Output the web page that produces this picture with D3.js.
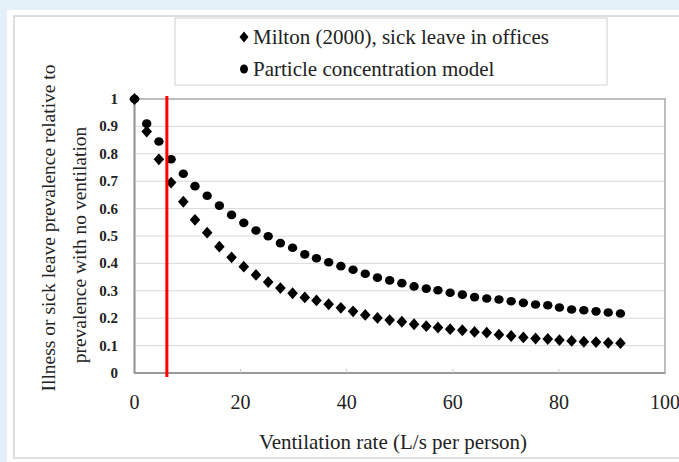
<!DOCTYPE html>
<html>
<head>
<meta charset="utf-8">
<script src="https://cdn.jsdelivr.net/npm/d3@7"></script>
<style>
    body { margin: 0; background: #e4f0f8; }
    svg { display: block; }
</style>
</head>
<body>
<div id="chart"></div>
<script>
// Ventilation rate (L/s per person), shared by both series
const ventilationRate = [
    0, 2.3, 4.6, 6.9, 9.2, 11.4, 13.7, 16.0, 18.3, 20.6,
    22.9, 25.2, 27.5, 29.8, 32.1, 34.3, 36.6, 38.9, 41.2, 43.5,
    45.8, 48.1, 50.4, 52.7, 55.0, 57.2, 59.5, 61.8, 64.1, 66.4,
    68.7, 71.0, 73.3, 75.6, 77.9, 80.1, 82.4, 84.7, 87.0, 89.3, 91.6
];

// Milton (2000), sick leave in offices
const miltonSickLeave = [
    1.0, 0.881, 0.78, 0.695, 0.625, 0.559, 0.512, 0.461, 0.422, 0.388,
    0.358, 0.332, 0.31, 0.291, 0.276, 0.265, 0.251, 0.238, 0.225, 0.212,
    0.201, 0.193, 0.187, 0.178, 0.171, 0.166, 0.16, 0.156, 0.15, 0.147,
    0.14, 0.135, 0.13, 0.126, 0.124, 0.12, 0.117, 0.114, 0.113, 0.11, 0.109
];

// Particle concentration model
const particleModel = [
    1.0, 0.91, 0.845, 0.78, 0.727, 0.682, 0.647, 0.611, 0.577, 0.548,
    0.52, 0.499, 0.474, 0.457, 0.433, 0.419, 0.404, 0.39, 0.377, 0.362,
    0.348, 0.338, 0.328, 0.316, 0.308, 0.302, 0.293, 0.286, 0.277, 0.272,
    0.268, 0.262, 0.256, 0.25, 0.247, 0.239, 0.232, 0.229, 0.225, 0.221, 0.217
];

const xTicks = [0, 20, 40, 60, 80, 100];
const yTicks = [0, 0.1, 0.2, 0.3, 0.4, 0.5, 0.6, 0.7, 0.8, 0.9, 1];
const referenceRate = 6.1;

const legendLabels = [
    "Milton (2000), sick leave in offices",
    "Particle concentration model"
];

const serif = "'Liberation Serif', 'Times New Roman', serif";

function diamond(cx, cy, w, h) {
    return `M${cx},${cy - h}L${cx + w},${cy}L${cx},${cy + h}L${cx - w},${cy}Z`;
}

function drawChart() {
    const width = 679, height = 462;

    const svg = d3
        .select("#chart")
        .append("svg")
        .attr("width", width)
        .attr("height", height)
        .attr("viewBox", [0, 0, width, height])
        .attr("font-family", serif);

    // White panel with its thin frame
    svg.append("rect")
        .attr("x", 7).attr("y", 10)
        .attr("width", width).attr("height", height)
        .attr("fill", "#fff");
    svg.append("rect")
        .attr("x", 14).attr("y", 16)
        .attr("width", width).attr("height", 442)
        .attr("fill", "#fff")
        .attr("stroke", "#d4d4d4")
        .attr("stroke-width", 1.5);

    const x = d3.scaleLinear().domain([0, 100]).range([134.5, 665]);
    const y = d3.scaleLinear().domain([0, 1]).range([373, 99]);

    // Gridlines
    svg.append("g")
        .selectAll("line")
        .data(yTicks.slice(1, -1))
        .join("line")
        .attr("x1", x(0)).attr("x2", x(100))
        .attr("y1", (d) => y(d)).attr("y2", (d) => y(d))
        .attr("stroke", "#d9d9d9")
        .attr("stroke-width", 1);

    // Plot border
    svg.append("rect")
        .attr("x", x(0)).attr("y", y(1))
        .attr("width", x(100) - x(0))
        .attr("height", y(0) - y(1))
        .attr("fill", "none")
        .attr("stroke", "#a8a8a8")
        .attr("stroke-width", 1.5);

    // Axis lines
    svg.append("line")
        .attr("x1", x(0)).attr("x2", x(0))
        .attr("y1", y(1)).attr("y2", y(0))
        .attr("stroke", "#999").attr("stroke-width", 2);
    svg.append("line")
        .attr("x1", x(0)).attr("x2", x(100))
        .attr("y1", y(0)).attr("y2", y(0))
        .attr("stroke", "#999").attr("stroke-width", 2);

    // Small inner ticks on x axis
    svg.append("g")
        .selectAll("line")
        .data(xTicks.slice(1, -1))
        .join("line")
        .attr("x1", (d) => x(d)).attr("x2", (d) => x(d))
        .attr("y1", y(0) - 4).attr("y2", y(0))
        .attr("stroke", "#c8c8c8");

    // Tick labels
    svg.append("g")
        .selectAll("text")
        .data(yTicks)
        .join("text")
        .attr("x", 118)
        .attr("y", (d) => y(d) + 5)
        .attr("text-anchor", "end")
        .attr("font-size", 15)
        .attr("font-weight", "bold")
        .attr("fill", "#222")
        .text((d) => d3.format("~g")(d));

    svg.append("g")
        .selectAll("text")
        .data(xTicks)
        .join("text")
        .attr("x", (d) => x(d))
        .attr("y", 409)
        .attr("text-anchor", "middle")
        .attr("font-size", 20)
        .attr("fill", "#222")
        .text((d) => d);

    // Axis titles
    svg.append("text")
        .attr("x", 393).attr("y", 449)
        .attr("text-anchor", "middle")
        .attr("font-size", 21)
        .attr("fill", "#222")
        .text("Ventilation rate (L/s per person)");

    svg.append("text")
        .attr("transform", "translate(55,228) rotate(-90)")
        .attr("text-anchor", "middle")
        .attr("font-size", 19.5)
        .attr("fill", "#222")
        .text("Illness or sick leave prevalence relative to");
    svg.append("text")
        .attr("transform", "translate(86,245) rotate(-90)")
        .attr("text-anchor", "middle")
        .attr("font-size", 19.5)
        .attr("fill", "#222")
        .text("prevalence with no ventilation");

    // Particle concentration model (dots)
    svg.append("g")
        .selectAll("ellipse")
        .data(ventilationRate)
        .join("ellipse")
        .attr("cx", (d) => x(d))
        .attr("cy", (d, i) => y(particleModel[i]))
        .attr("rx", 4.7)
        .attr("ry", 4.3)
        .attr("fill", "#000");

    // Milton (2000) (diamonds)
    svg.append("g")
        .selectAll("path")
        .data(ventilationRate)
        .join("path")
        .attr("d", (d, i) => diamond(x(d), y(miltonSickLeave[i]), 5.3, 5.9))
        .attr("fill", "#000");

    // Reference ventilation rate
    svg.append("line")
        .attr("x1", x(referenceRate)).attr("x2", x(referenceRate))
        .attr("y1", y(1) - 3).attr("y2", y(0) + 4)
        .attr("stroke", "#ff0000")
        .attr("stroke-width", 3);

    // Legend
    const legend = svg.append("g");
    legend.append("rect")
        .attr("x", 175).attr("y", 18)
        .attr("width", 432).attr("height", 67)
        .attr("fill", "#fff")
        .attr("stroke", "#d0d0d0");

    legend.append("path")
        .attr("d", diamond(244, 37, 4.5, 5.5))
        .attr("fill", "#000");
    legend.append("ellipse")
        .attr("cx", 244).attr("cy", 69)
        .attr("rx", 4).attr("ry", 4.5)
        .attr("fill", "#000");

    legend.selectAll("text")
        .data(legendLabels)
        .join("text")
        .attr("x", 253)
        .attr("y", (d, i) => 44 + i * 32)
        .attr("font-size", 21)
        .attr("fill", "#222")
        .text((d) => d);
}

drawChart();
</script>
</body>
</html>
